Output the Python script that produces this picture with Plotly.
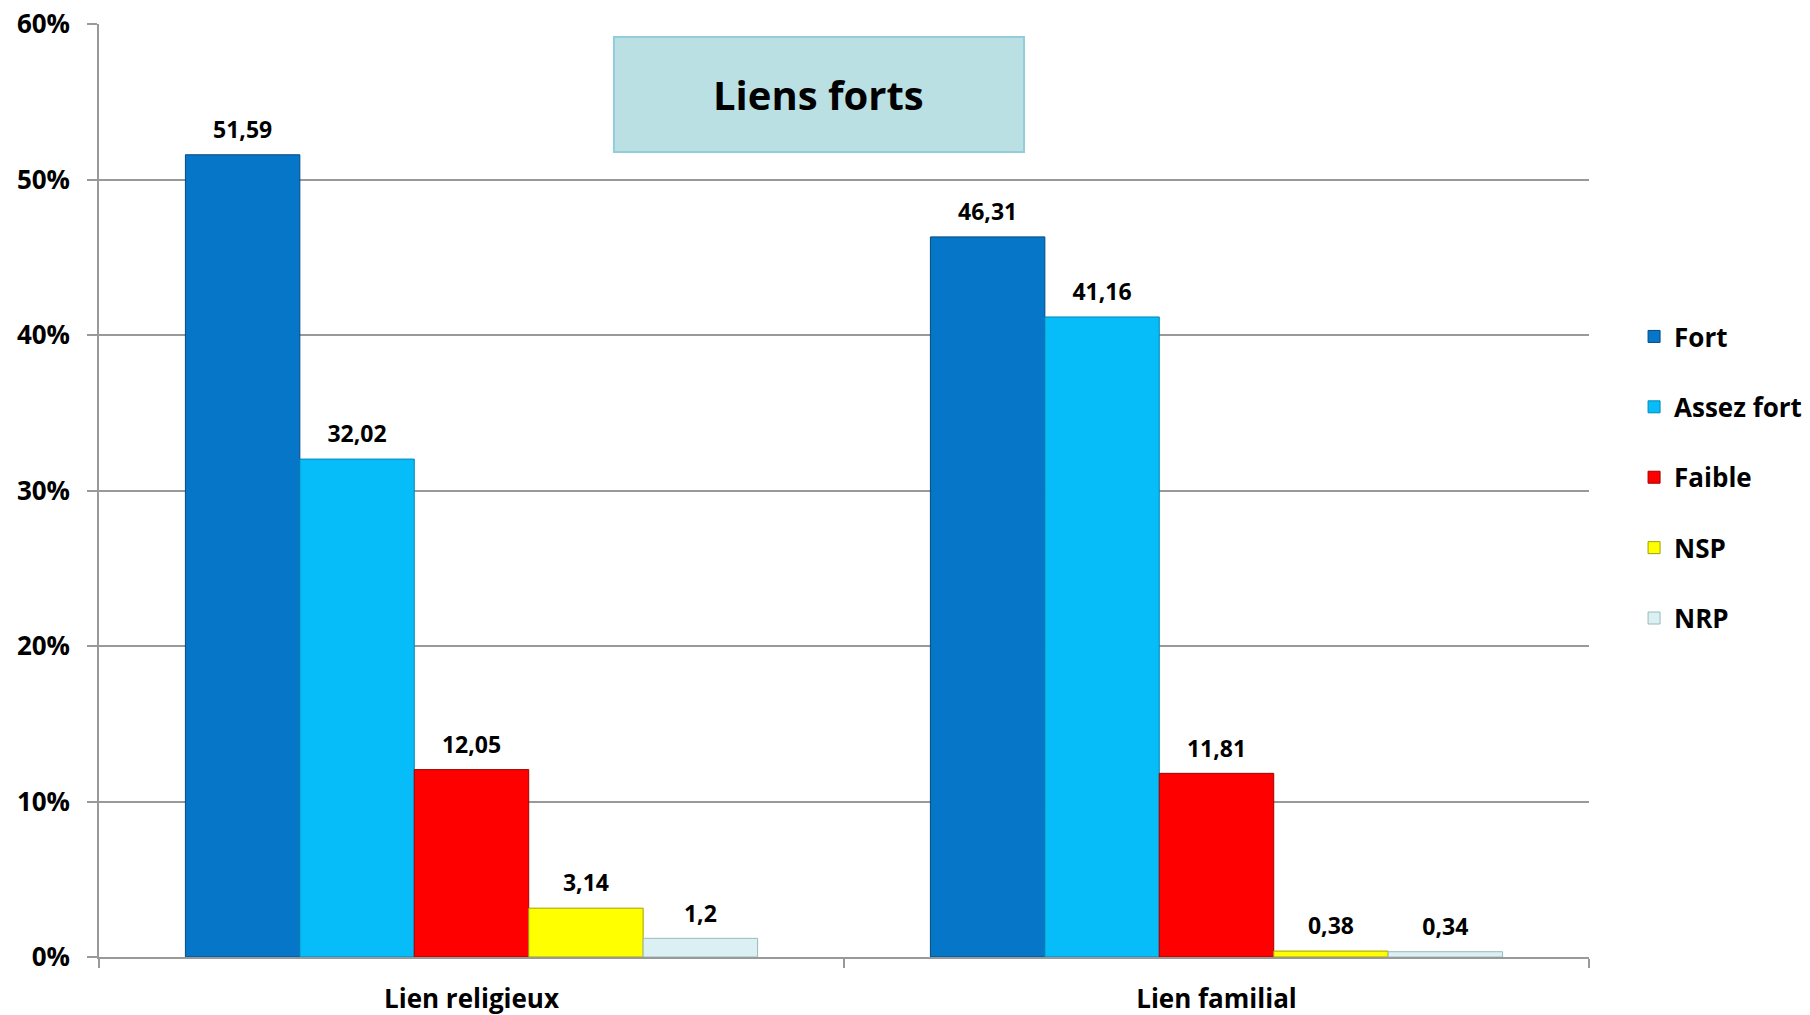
import plotly.graph_objects as go

categories = ["Lien religieux", "Lien familial"]
series_names = ["Fort", "Assez fort", "Faible", "NSP", "NRP"]
fort = [51.59, 46.31]
assez_fort = [32.02, 41.16]
faible = [12.05, 11.81]
nsp = [3.14, 0.38]
nrp = [1.2, 0.34]
y_ticks = [0, 10, 20, 30, 40, 50, 60]
y_tick_labels = ["0%", "10%", "20%", "30%", "40%", "50%", "60%"]
title_text = "Liens forts"

series_values = [fort, assez_fort, faible, nsp, nrp]
colors = ["#0676C8", "#06BCF9", "#FF0000", "#FFFF00", "#DAF0F3"]
edges = ["#034a80", "#0488b5", "#a00000", "#a0a000", "#9ab8bc"]

FONT = "Open Sans"

fig = go.Figure()
for i, (name, vals) in enumerate(zip(series_names, series_values)):
    fig.add_trace(go.Bar(
        x=categories, y=vals, name=name,
        legendgroup=name, offsetgroup=name,
        marker=dict(color=colors[i], line=dict(color=edges[i], width=1)),
        hoverinfo="x+y+name",
    ))
for i, (name, vals) in enumerate(zip(series_names, series_values)):
    labels = [str(v).replace(".", ",") for v in vals]
    fig.add_trace(go.Scatter(
        x=categories, y=vals, name=name,
        offsetgroup=name, mode="markers+text",
        marker=dict(size=16, color="rgba(0,0,0,0)"),
        text=labels, textposition="top center",
        textfont=dict(family=FONT, size=23, color="black", weight="bold"),
        showlegend=False, cliponaxis=False, hoverinfo="skip",
    ))

fig.update_layout(
    width=1810, height=1015,
    margin=dict(l=99, r=221, t=24, b=58, autoexpand=False),
    paper_bgcolor="white", plot_bgcolor="white",
    barmode="group", bargap=0.232, bargroupgap=0,
    scattermode="group", scattergap=0.232,
    font=dict(family=FONT, color="black"),
    showlegend=True,
    legend=dict(
        xref="container", yref="container",
        x=0.9028, xanchor="left", y=0.6916, yanchor="top",
        font=dict(family=FONT, size=26, color="black", weight="bold"),
        tracegroupgap=33.6, itemwidth=30,
    ),
    shapes=[dict(
        type="rect", xref="paper", yref="paper",
        x0=0.3456, x1=0.6208, y0=0.8628, y1=0.986,
        fillcolor="#BBE0E3", line=dict(color="#92CDDC", width=2),
        layer="above",
    )],
    annotations=[dict(
        text=title_text, xref="paper", yref="paper",
        x=0.4832, y=0.9244, xanchor="center", yanchor="middle",
        showarrow=False,
        font=dict(family=FONT, size=40, color="black", weight="bold"),
    )],
)

fig.update_yaxes(
    range=[0, 60], tickvals=y_ticks, ticktext=y_tick_labels,
    showgrid=True, gridcolor="#999999", gridwidth=1.5,
    showline=True, linecolor="#999999", linewidth=1.5,
    ticks="outside", ticklen=10, tickcolor="#999999", tickwidth=1.5,
    tickfont=dict(family=FONT, size=26, color="black", weight="bold"),
    ticklabelstandoff=12,
    zeroline=False,
)
fig.update_xaxes(
    showline=True, linecolor="#999999", linewidth=1.5,
    ticks="outside", tickson="boundaries", ticklen=9, tickcolor="#999999", tickwidth=1.5,
    tickfont=dict(family=FONT, size=26, color="black", weight="bold"),
    ticklabelstandoff=18,
    showgrid=False,
)

fig.write_html("out.html")
